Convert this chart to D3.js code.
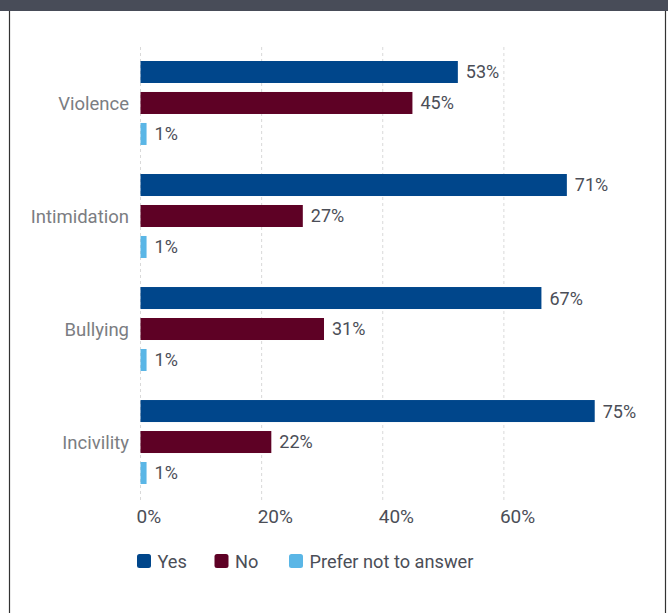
<!DOCTYPE html>
<html>
<head>
<meta charset="utf-8">
<script src="https://cdn.jsdelivr.net/npm/d3@7"></script>
<style>
  html, body { margin: 0; padding: 0; background: #fff; }
  svg { display: block; }
  text { font-family: "Roboto", sans-serif; }
</style>
</head>
<body>
<svg id="chart" width="668" height="613"></svg>
<script>
// data
const categories = ["Violence", "Intimidation", "Bullying", "Incivility"];
const seriesNames = ["Yes", "No", "Prefer not to answer"];
const yesValues = [52.4, 70.4, 66.2, 75.0];
const noValues = [44.9, 26.8, 30.3, 21.6];
const preferValues = [1, 1, 1, 1];
const yesLabels = ["53%", "71%", "67%", "75%"];
const noLabels = ["45%", "27%", "31%", "22%"];
const preferLabels = ["1%", "1%", "1%", "1%"];
const xTicks = [0, 20, 40, 60];

const colors = { "Yes": "#00468b", "No": "#5e0125", "Prefer not to answer": "#5ab6e6" };

const valuesBySeries = [yesValues, noValues, preferValues];
const labelsBySeries = [yesLabels, noLabels, preferLabels];

const rows = [];
categories.forEach((c, i) => {
    seriesNames.forEach((s, j) => {
        rows.push({ category: c, series: s, value: valuesBySeries[j][i], label: labelsBySeries[j][i] });
    });
});

const svg = d3.select("#chart");
const W = 668, H = 613;

// frame: dark top band + thin side borders
svg.append("rect").attr("x", 0).attr("y", 0).attr("width", W).attr("height", 11).attr("fill", "#484c58");
svg.append("line").attr("x1", 9.5).attr("x2", 9.5).attr("y1", 11).attr("y2", H)
    .attr("stroke", "#333").attr("stroke-width", 1.2);
svg.append("line").attr("x1", 665.5).attr("x2", 665.5).attr("y1", 11).attr("y2", H)
    .attr("stroke", "#333").attr("stroke-width", 1.2);

const x = d3.scaleLinear().domain([0, 80]).range([140.5, 625]);

const y = d3.scaleBand().domain(categories).range([61, 484]).paddingInner(0.257).paddingOuter(0);
const yInner = d3.scaleBand().domain(seriesNames).range([0, y.bandwidth()]).paddingInner(0.29);

// gridlines
svg.append("g").selectAll("line")
    .data(xTicks).join("line")
    .attr("x1", d => x(d)).attr("x2", d => x(d))
    .attr("y1", 47).attr("y2", 500)
    .attr("stroke", "#d9d9d9").attr("stroke-width", 1)
    .attr("stroke-dasharray", "3,3");

// tick labels
const axis = svg.append("g")
    .attr("transform", "translate(0,500)")
    .call(d3.axisBottom(x).tickValues(xTicks).tickSize(0).tickFormat(d => d + "%"));
axis.select(".domain").remove();
axis.selectAll("text")
    .attr("text-anchor", "start")
    .attr("dx", -4.5)
    .attr("y", 23)
    .attr("dy", 0)
    .attr("fill", "#4b4e57")
    .style("font-size", "19px")
    .style("font-family", "Roboto, sans-serif");

// bars
const bars = svg.append("g");
bars.selectAll("rect")
    .data(rows).join("rect")
    .attr("x", x(0))
    .attr("y", d => y(d.category) + yInner(d.series))
    .attr("width", d => x(d.value) - x(0))
    .attr("height", yInner.bandwidth())
    .attr("fill", d => colors[d.series]);

// value labels
bars.selectAll("text")
    .data(rows).join("text")
    .attr("x", d => x(d.value) + 8)
    .attr("y", d => y(d.category) + yInner(d.series) + yInner.bandwidth() / 2)
    .attr("dy", "0.36em")
    .attr("fill", "#4b4e57")
    .style("font-size", "18px")
    .text(d => d.label);

// category labels
svg.append("g").selectAll("text")
    .data(categories).join("text")
    .attr("x", 129)
    .attr("y", d => y(d) + yInner("No") + yInner.bandwidth() / 2)
    .attr("dy", "0.36em")
    .attr("text-anchor", "end")
    .attr("fill", "#7b7d82")
    .style("font-size", "18.5px")
    .text(d => d);

// legend
const legendX = [137, 214.5, 289];
const legend = svg.append("g").selectAll("g")
    .data(seriesNames).join("g")
    .attr("transform", (d, i) => `translate(${legendX[i]},554)`);
legend.append("rect")
    .attr("width", 14).attr("height", 14).attr("rx", 2.5)
    .attr("fill", d => colors[d]);
legend.append("text")
    .attr("x", 20.5).attr("y", 7)
    .attr("dy", "0.36em")
    .attr("fill", "#4b4e57")
    .style("font-size", "18.2px")
    .text(d => d);
</script>
</body>
</html>
